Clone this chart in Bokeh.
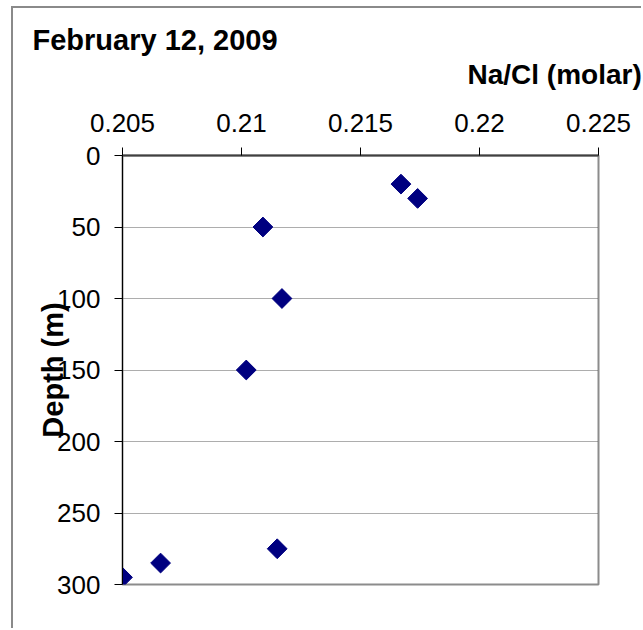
import numpy as np
from bokeh.plotting import figure
from bokeh.models import Range1d, FixedTicker, NumeralTickFormatter, Title
from bokeh.embed import file_html
from bokeh.resources import INLINE

# ---- data ----
na_cl = [0.2167, 0.2174, 0.2109, 0.2117, 0.2102, 0.2115, 0.2066, 0.2050]
depth = [20, 30, 50, 100, 150, 275, 285, 295]
x_ticks = [0.205, 0.21, 0.215, 0.22, 0.225]
y_ticks = [0, 50, 100, 150, 200, 250, 300]
title_text = "February 12, 2009"
x_label_text = "Na/Cl  (molar)"
y_label_text = "Depth (m)"

FONT = "Liberation Sans"
OX, OY = 13, 8                      # figure origin on the page
W, H = 643 - OX, 630 - OY
FRAME_L, FRAME_T, FRAME_R, FRAME_B = 122, 155, 598, 584  # page pixels

p = figure(width=W, height=H, output_backend="svg", toolbar_location=None,
           x_axis_location="above",
           x_range=Range1d(x_ticks[0], x_ticks[-1]), y_range=Range1d(y_ticks[-1], y_ticks[0]),
           min_border_left=FRAME_L - OX, min_border_top=FRAME_T - OY,
           min_border_right=OX + W - FRAME_R, min_border_bottom=OY + H - FRAME_B)
p.margin = (OY, 0, 0, OX)
p.styles = {"box-shadow": "-2px -2px 0px 0px #8a8a8a"}
p.background_fill_color = "white"
p.border_fill_color = "white"
p.outline_line_color = "#8c8c8c"
p.outline_line_width = 2

# grids
p.xgrid.visible = False
p.ygrid.ticker = FixedTicker(ticks=y_ticks)
p.ygrid.grid_line_color = "#5a5a5a"
p.ygrid.grid_line_dash = "1 1"
p.ygrid.grid_line_width = 1

# axes
for ax in (p.xaxis[0], p.yaxis[0]):
    ax.major_label_text_font = FONT
    ax.major_label_text_font_size = "26px"
    ax.major_label_text_color = "black"
    ax.minor_tick_line_color = None
    ax.major_tick_in = 0
    ax.major_tick_out = 8
    ax.major_tick_line_color = "black"

p.xaxis.ticker = FixedTicker(ticks=x_ticks)
p.xaxis.formatter = NumeralTickFormatter(format="0.[000]")
p.xaxis.axis_line_color = "#404040"
p.xaxis.axis_line_width = 2
p.xaxis.major_label_standoff = 16

p.yaxis.ticker = FixedTicker(ticks=y_ticks)
p.yaxis.axis_line_color = "black"
p.yaxis.axis_line_width = 1
p.yaxis.major_label_standoff = 14
p.yaxis.axis_label = y_label_text
p.yaxis.axis_label_text_font = FONT
p.yaxis.axis_label_text_font_style = "bold"
p.yaxis.axis_label_text_font_size = "29px"
p.yaxis.axis_label_text_color = "black"
p.yaxis.axis_label_standoff = -15

# x-axis label as a right-aligned title line just above the tick labels
p.add_layout(Title(text=x_label_text, align="right", offset=-51, standoff=42,
                   text_font=FONT, text_font_style="bold", text_font_size="28px",
                   text_line_height=0.7, text_color="black"), "above")

# chart title
p.title.text = title_text
p.title.align = "left"
p.title.offset = 32 - FRAME_L
p.title.standoff = -40
p.title.text_font = FONT
p.title.text_font_style = "bold"
p.title.text_font_size = "29px"
p.title.text_color = "black"

# data
p.scatter(na_cl, depth, marker="square", angle=np.pi / 4, size=14,
          fill_color="#000080", line_color="#000080")

open("out.html", "w").write(file_html(p, INLINE))
